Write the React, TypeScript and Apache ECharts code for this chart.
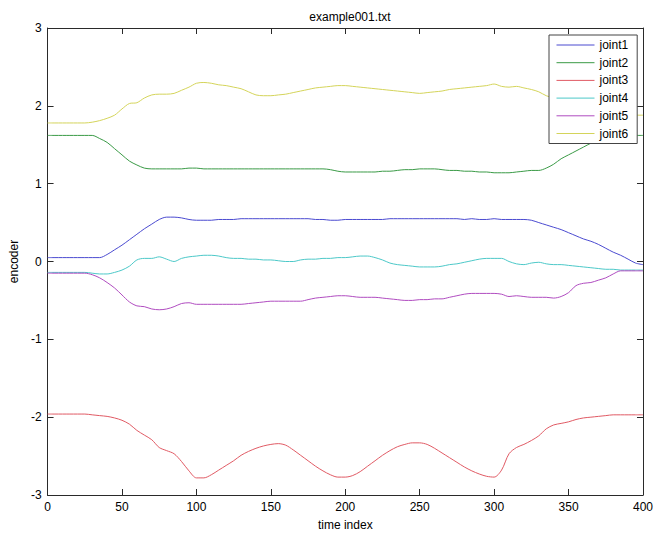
import React, { useEffect, useRef } from "react";
import * as echarts from "echarts";

const timeIndex: number[] = [];
for (let t = 0; t <= 400; t += 5) timeIndex.push(t);

const seriesNames = ["joint1", "joint2", "joint3", "joint4", "joint5", "joint6"];
const seriesColors = ["#4a4ad0", "#3a9a46", "#e05a64", "#4cc8c8", "#b04cc0", "#d4d45a"];

const joint1 = [
  0.05, 0.05, 0.05, 0.05, 0.05, 0.05, 0.05, 0.05, 0.09, 0.15, 0.21, 0.28, 0.35, 0.42, 0.48, 0.54, 0.57,
  0.57, 0.56, 0.54, 0.53, 0.53, 0.53, 0.54, 0.54, 0.54, 0.55, 0.55, 0.55, 0.55, 0.55, 0.55, 0.55, 0.55,
  0.55, 0.55, 0.54, 0.54, 0.53, 0.53, 0.54, 0.54, 0.54, 0.54, 0.54, 0.54, 0.55, 0.55, 0.55, 0.55, 0.55,
  0.55, 0.55, 0.55, 0.55, 0.55, 0.54, 0.55, 0.54, 0.54, 0.55, 0.54, 0.54, 0.54, 0.54, 0.53, 0.5, 0.47,
  0.44, 0.41, 0.37, 0.33, 0.29, 0.26, 0.22, 0.17, 0.12, 0.08, 0.03, -0.02, -0.04,
];
const joint2 = [
  1.62, 1.62, 1.62, 1.62, 1.62, 1.62, 1.62, 1.58, 1.53, 1.45, 1.37, 1.29, 1.24, 1.2, 1.19, 1.19, 1.19,
  1.19, 1.19, 1.2, 1.2, 1.19, 1.19, 1.19, 1.19, 1.19, 1.19, 1.19, 1.19, 1.19, 1.19, 1.19, 1.19, 1.19,
  1.19, 1.19, 1.19, 1.19, 1.18, 1.16, 1.15, 1.15, 1.15, 1.15, 1.15, 1.16, 1.16, 1.17, 1.18, 1.18, 1.19,
  1.19, 1.19, 1.18, 1.17, 1.17, 1.16, 1.16, 1.15, 1.15, 1.14, 1.14, 1.14, 1.15, 1.16, 1.17, 1.17, 1.2,
  1.25, 1.32, 1.37, 1.42, 1.47, 1.52, 1.56, 1.59, 1.61, 1.62, 1.62, 1.62, 1.62,
];
const joint3 = [
  -1.96, -1.96, -1.96, -1.96, -1.96, -1.96, -1.97, -1.98, -1.99, -2.01, -2.04, -2.09, -2.17, -2.23, -2.29,
  -2.39, -2.43, -2.47, -2.57, -2.69, -2.78, -2.78, -2.74, -2.68, -2.62, -2.56, -2.49, -2.44, -2.4, -2.37,
  -2.35, -2.34, -2.36, -2.42, -2.49, -2.56, -2.63, -2.69, -2.74, -2.77, -2.77, -2.75, -2.7, -2.63, -2.56,
  -2.49, -2.43, -2.38, -2.35, -2.33, -2.33, -2.35, -2.4, -2.46, -2.52, -2.58, -2.64, -2.69, -2.73, -2.76,
  -2.77, -2.68, -2.47, -2.39, -2.35, -2.3, -2.24, -2.15, -2.1, -2.08, -2.06, -2.03, -2.01, -2.0, -1.99,
  -1.98, -1.97, -1.97, -1.97, -1.97, -1.97,
];
const joint4 = [
  -0.14, -0.14, -0.14, -0.14, -0.14, -0.14, -0.15, -0.16, -0.16, -0.14, -0.11, -0.06, 0.02, 0.04, 0.04,
  0.06, 0.03, 0.0, 0.04, 0.06, 0.07, 0.08, 0.08, 0.07, 0.05, 0.04, 0.04, 0.03, 0.03, 0.02, 0.02, 0.01, 0.0,
  0.0, 0.02, 0.03, 0.03, 0.04, 0.04, 0.05, 0.05, 0.06, 0.07, 0.07, 0.05, 0.02, -0.02, -0.04, -0.05, -0.06,
  -0.07, -0.07, -0.07, -0.06, -0.04, -0.03, -0.01, 0.01, 0.03, 0.04, 0.04, 0.04, 0.0, -0.03, -0.04, -0.02,
  -0.01, -0.03, -0.04, -0.04, -0.05, -0.06, -0.07, -0.08, -0.09, -0.1, -0.1, -0.11, -0.11, -0.11, -0.11,
];
const joint5 = [
  -0.15, -0.15, -0.15, -0.15, -0.15, -0.15, -0.17, -0.21, -0.27, -0.34, -0.43, -0.52, -0.57, -0.58, -0.61,
  -0.62, -0.61, -0.58, -0.54, -0.53, -0.55, -0.55, -0.55, -0.55, -0.55, -0.55, -0.55, -0.54, -0.53, -0.52,
  -0.51, -0.51, -0.51, -0.51, -0.51, -0.49, -0.47, -0.46, -0.45, -0.44, -0.44, -0.45, -0.46, -0.46, -0.46,
  -0.47, -0.48, -0.49, -0.5, -0.5, -0.49, -0.49, -0.48, -0.48, -0.46, -0.44, -0.42, -0.41, -0.41, -0.41,
  -0.41, -0.42, -0.45, -0.44, -0.45, -0.46, -0.46, -0.46, -0.47, -0.45, -0.4, -0.31, -0.28, -0.27, -0.24,
  -0.21, -0.16, -0.12, -0.12, -0.12, -0.12,
];
const joint6 = [
  1.78, 1.78, 1.78, 1.78, 1.78, 1.78, 1.79, 1.81, 1.84, 1.88, 1.96, 2.03, 2.04, 2.1, 2.14, 2.15, 2.15, 2.16,
  2.2, 2.24, 2.29, 2.3, 2.29, 2.27, 2.26, 2.24, 2.22, 2.18, 2.14, 2.13, 2.13, 2.14, 2.15, 2.17, 2.19, 2.21,
  2.23, 2.24, 2.25, 2.26, 2.26, 2.25, 2.24, 2.23, 2.22, 2.21, 2.2, 2.19, 2.18, 2.17, 2.16, 2.17, 2.18, 2.19,
  2.21, 2.22, 2.23, 2.24, 2.25, 2.26, 2.28, 2.25, 2.24, 2.25, 2.23, 2.21, 2.18, 2.13, 2.1, 2.06, 2.03, 2.0,
  1.98, 1.96, 1.94, 1.92, 1.91, 1.9, 1.89, 1.88, 1.88,
];
const allSeries = [joint1, joint2, joint3, joint4, joint5, joint6];

const xTicks = { min: 0, max: 400, interval: 50 };
const yTicks = { min: -3, max: 3, interval: 1 };

const FONT = "'Liberation Sans', Arial, Helvetica, sans-serif";
const AXIS_COLOR = "#2a2a2a";

const mkTick = () => ({ show: true, inside: true, length: 6, lineStyle: { color: AXIS_COLOR, width: 1 } });
const mkLine = () => ({ show: true, onZero: false, lineStyle: { color: AXIS_COLOR, width: 1 } });

export default function App() {
  const ref = useRef<HTMLDivElement>(null);
  useEffect(() => {
    if (!ref.current) return;
    const chart = echarts.init(ref.current, undefined, { renderer: "svg" });
    chart.setOption({
      animation: false,
      backgroundColor: "#fff",
      textStyle: { fontFamily: FONT },
      title: {
        text: "example001.txt",
        left: 345,
        top: 6,
        textAlign: "center",
        textStyle: { fontSize: 12, fontWeight: "normal", color: "#000", fontFamily: FONT },
      },
      legend: {
        orient: "vertical",
        left: 549,
        top: 35,
        data: seriesNames,
        itemWidth: 38,
        itemHeight: 14,
        itemGap: 5.7,
        padding: [4, 9, 4, 7],
        borderColor: "#444",
        borderWidth: 1,
        backgroundColor: "#fff",
        itemStyle: { opacity: 0 },
        lineStyle: { width: 1 },
        textStyle: { fontSize: 12, color: "#000", fontFamily: FONT },
      },
      grid: { left: 47, right: 13, top: 28, bottom: 47 },
      xAxis: [
        {
          type: "value",
          ...xTicks,
          position: "bottom",
          name: "time index",
          nameLocation: "middle",
          nameGap: 24,
          nameTextStyle: { fontSize: 12, color: "#000", fontFamily: FONT },
          axisLine: mkLine(),
          axisTick: mkTick(),
          axisLabel: { color: "#000", fontSize: 12, margin: 6, fontFamily: FONT },
          splitLine: { show: false },
        },
        {
          type: "value",
          ...xTicks,
          position: "top",
          axisLine: mkLine(),
          axisTick: mkTick(),
          axisLabel: { show: false },
          splitLine: { show: false },
        },
      ],
      yAxis: [
        {
          type: "value",
          ...yTicks,
          position: "left",
          name: "encoder",
          nameLocation: "middle",
          nameGap: 27,
          nameTextStyle: { fontSize: 12, color: "#000", fontFamily: FONT },
          axisLine: mkLine(),
          axisTick: mkTick(),
          axisLabel: { color: "#000", fontSize: 12, margin: 6, fontFamily: FONT },
          splitLine: { show: false },
        },
        {
          type: "value",
          ...yTicks,
          position: "right",
          axisLine: mkLine(),
          axisTick: mkTick(),
          axisLabel: { show: false },
          splitLine: { show: false },
        },
      ],
      series: allSeries.map((vals, i) => ({
        name: seriesNames[i],
        type: "line",
        xAxisIndex: 0,
        yAxisIndex: 0,
        symbol: "none",
        showSymbol: false,
        smooth: 0.3,
        color: seriesColors[i],
        lineStyle: { width: 1, color: seriesColors[i] },
        data: timeIndex.map((t, k) => [t, vals[k]]),
      })),
    });
    return () => chart.dispose();
  }, []);
  return (
    <div
      ref={ref}
      style={{ position: "absolute", left: 0, top: 0, width: 656, height: 542 }}
    />
  );
}
